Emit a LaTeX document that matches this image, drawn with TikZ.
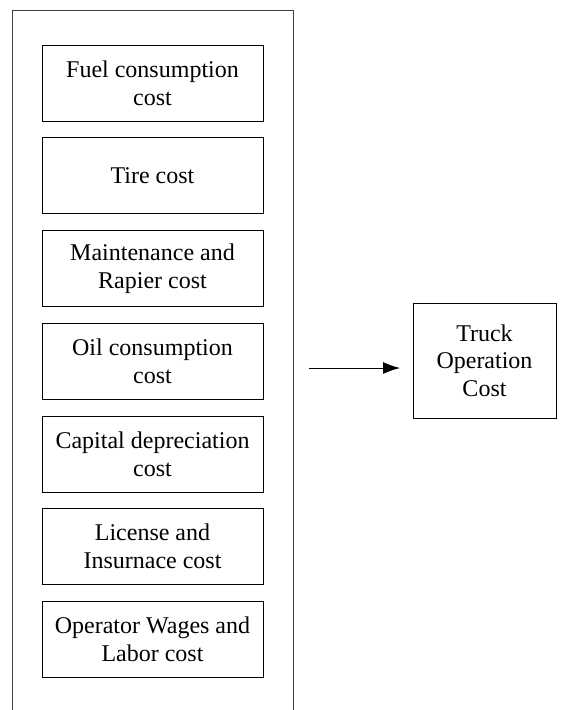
\documentclass[tikz,border=0pt]{standalone}
\usepackage{fontspec}
\setmainfont{Liberation Serif}
\usetikzlibrary{arrows.meta}
\begin{document}
\begin{tikzpicture}[x=1pt,y=-1pt,
  costbox/.style={draw=black,line width=0.9pt,minimum width=221pt,minimum height=76pt,
    inner sep=0pt,align=center,font=\fontsize{24}{28}\selectfont},
  truckbox/.style={draw=black,line width=0.9pt,minimum width=143pt,minimum height=115pt,
    inner sep=0pt,align=center,font=\fontsize{24}{27.5}\selectfont},
  frame/.style={draw=black!75,line width=1pt}]
\useasboundingbox (0,0) rectangle (560,710);
\clip (0,0) rectangle (560,710);
\draw[frame] (12,720) -- (12,10) -- (293,10) -- (293,720);
\node[costbox] (c1) at (152.5,83) {Fuel consumption\\cost};
\node[costbox] (c2) at (152.5,175.75) {Tire cost};
\node[costbox] (c3) at (152.5,268.5) {Maintenance and\\Rapier cost};
\node[costbox] (c4) at (152.5,361.25) {Oil consumption\\cost};
\node[costbox] (c5) at (152.5,454) {Capital depreciation\\cost};
\node[costbox] (c6) at (152.5,546.75) {License and\\Insurnace cost};
\node[costbox] (c7) at (152.5,639.5) {Operator Wages and\\Labor cost};
\node[truckbox] (t) at (484.5,360.5) {Truck\\Operation\\Cost};
\coordinate (as) at (309,368);
\coordinate (ae) at (400,368);
\draw[line width=0.9pt,-{Latex[length=17pt,width=12pt]}] (as) -- (ae);
\end{tikzpicture}
\end{document}
